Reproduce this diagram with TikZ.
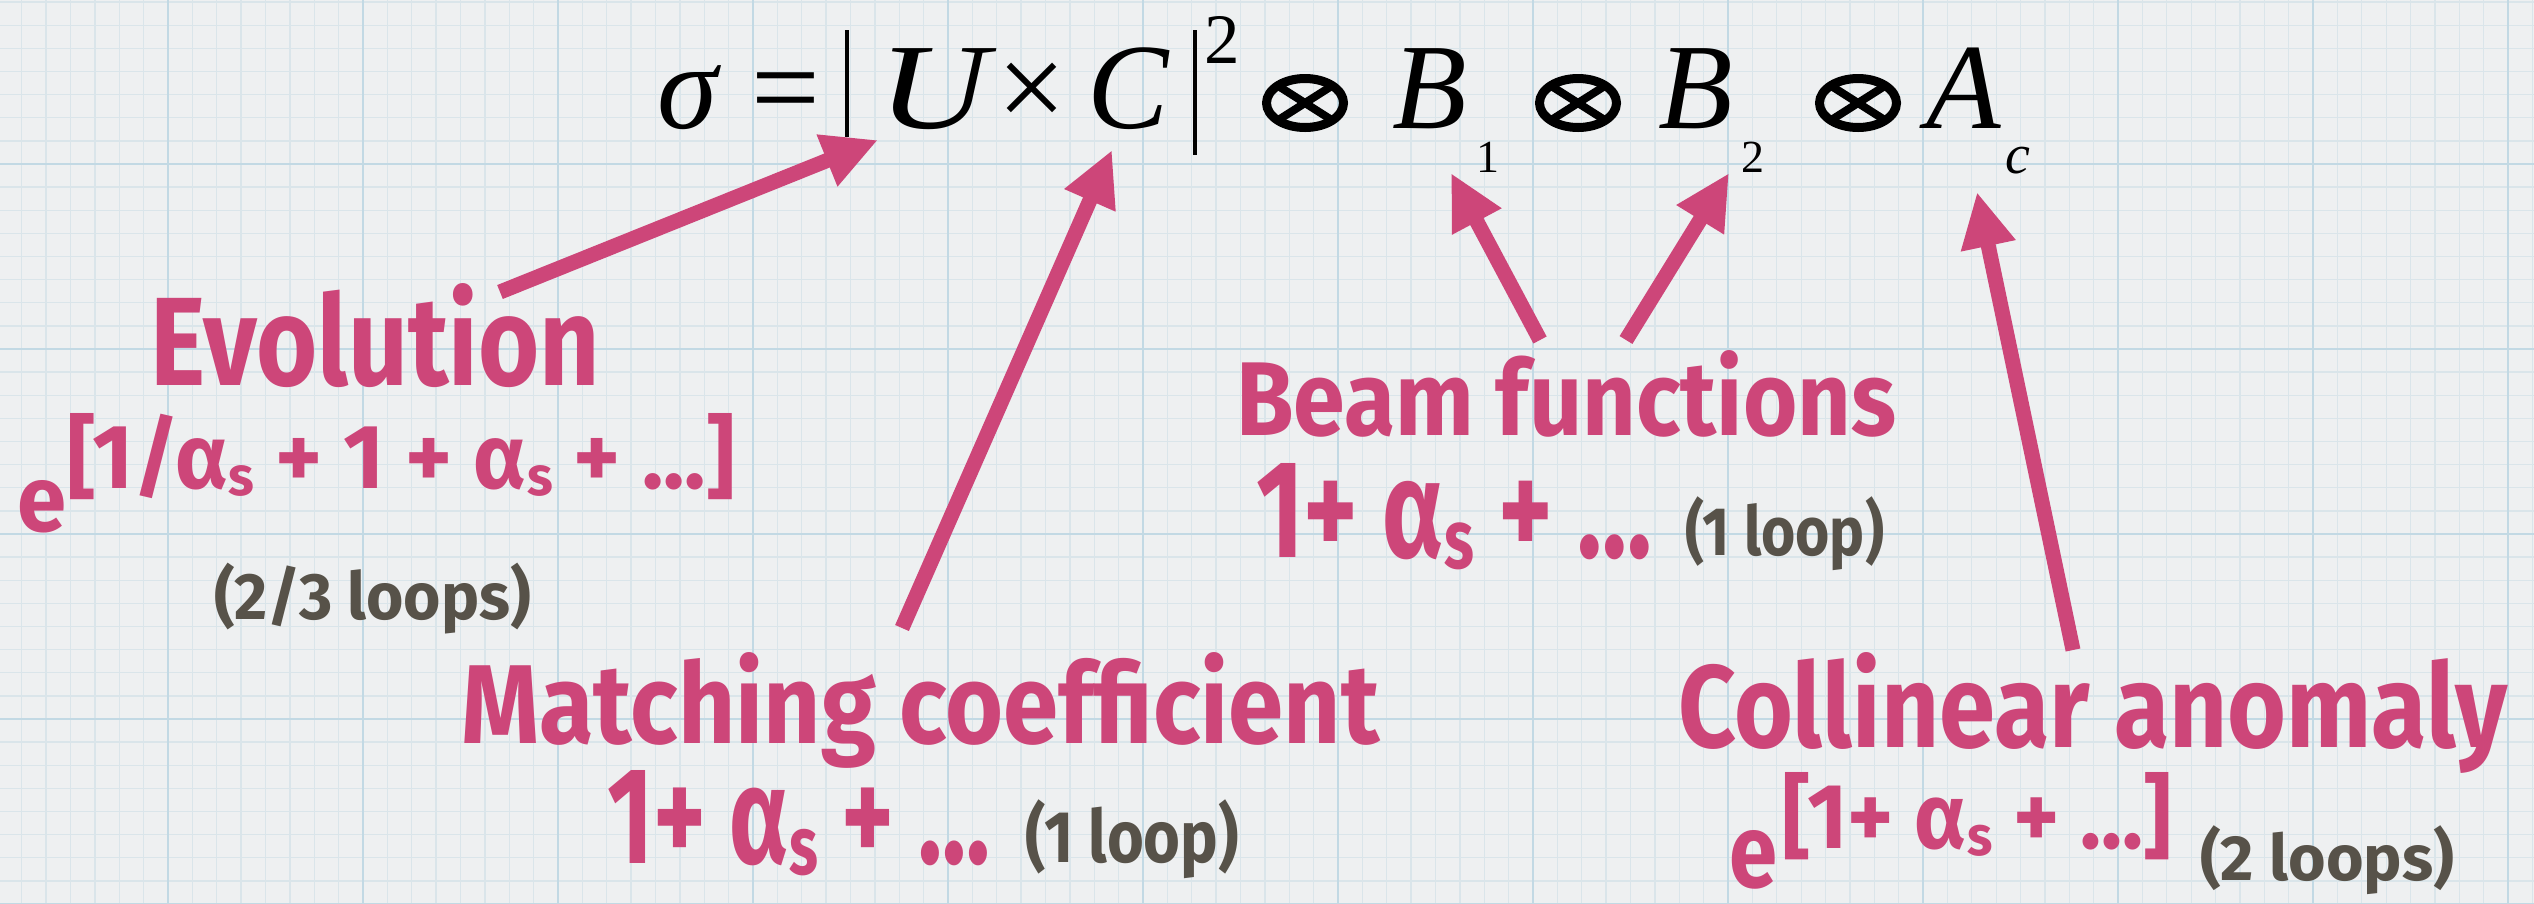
\documentclass[tikz,border=0pt]{standalone}
\usepackage{fontspec}
\usepackage{graphicx}
\usetikzlibrary{arrows.meta,shapes.geometric}
\setmainfont{Liberation Serif}
\newfontfamily\hand{Fira Sans}
\definecolor{bgc}{HTML}{EEF0F1}
\definecolor{minorc}{HTML}{DAE5EA}
\definecolor{majorc}{HTML}{C2D9E4}
\definecolor{pinkc}{HTML}{CD4679}
\definecolor{grayc}{HTML}{575249}
\newcommand\fitt[3]{\resizebox{#1pt}{#2pt}{#3}}
\newcommand\fitT[3]{\resizebox*{#1pt}{#2pt}{#3}}
\newcommand\ssub{\raisebox{-0.08em}{\scalebox{0.6}{s}}}
\tikzset{
  every node/.style={inner sep=0pt, outer sep=0pt},
  pinktext/.style={text=pinkc, font=\hand\bfseries, anchor=base west},
  graytext/.style={text=grayc, font=\hand\bfseries, anchor=south west},
  eqit/.style={font=\fontsize{122}{122}\selectfont\itshape, anchor=base, text=black},
  equp/.style={font=\fontsize{122}{122}\selectfont, anchor=base, text=black},
  eqsub/.style={font=\fontsize{46}{46}\selectfont, anchor=base, text=black},
  eqsubit/.style={font=\fontsize{56}{56}\selectfont\itshape, anchor=base, text=black},
  otring/.style={draw=black, ellipse, line width=9pt, minimum width=77pt, minimum height=49pt},
  otcross/.style={draw=black, line width=8pt},
  parrow/.style={draw=pinkc, line width=15pt, -{Triangle[length=55pt,width=52pt]}},
  minorline/.style={draw=minorc, line width=1.3pt},
  majorline/.style={draw=majorc, line width=2.2pt}
}
\begin{document}
\begin{tikzpicture}[x=1pt,y=-1pt]
\fill[bgc] (0,0) rectangle (2534,903);
\useasboundingbox (0,0) rectangle (2534,903);
\begin{scope}
\clip (0,0) rectangle (2534,903);
\foreach \i in {0,...,107} \draw[minorline] ({-27+\i*24.375},0) -- ({-27+\i*24.375},903);
\foreach \j in {0,...,40} \draw[minorline] (0,{-21+\j*23.125}) -- (2534,{-21+\j*23.125});
\foreach \k in {0,...,13} \draw[majorline] ({-27+\k*195},0) -- ({-27+\k*195},903);
\foreach \k in {0,...,5} \draw[majorline] (0,{-21+\k*185}) -- (2534,{-21+\k*185});
\end{scope}

% equation
\node[eqit] (sigma) at (688,128) {σ};
\node[equp] (eqs) at (786,128) {=};
\node[eqit] (U) at (934,128) {\scalebox{1.25}[1]{U}};
\node[equp] (tms) at (1032,128) {×};
\node[eqit] (C) at (1128,128) {C};
\draw[line width=3.5pt] (847,30) -- (847,137);
\draw[line width=3.5pt] (1195,30) -- (1195,155);
\node[font=\fontsize{71}{71}\selectfont, anchor=base] (sq) at (1222,63) {2};
\foreach \n/\cx in {ot1/1305, ot2/1578, ot3/1858} {
  \node[otring] (\n) at (\cx,103) {};
  \draw[otcross] (\n.north west) -- (\n.south east);
  \draw[otcross] (\n.north east) -- (\n.south west);
}
\node[eqit] (B1) at (1430,128) {B};
\node[eqsub] (s1) at (1488,172) {1};
\node[eqit] (B2) at (1696,128) {B};
\node[eqsub] (s2) at (1753,172) {2};
\node[eqit] (A) at (1964,128) {A};
\node[eqsubit] (sc) at (2018,173) {c};

% labels
\node[pinktext] (evo) at (150,385) {\fitt{450}{102}{Evolution}};
\node[pinktext] (evoE) at (18,531) {\fitt{49}{51}{e}};
\node[pinktext] (evoX) at (67,488) {\fitt{668}{75}{[1/α\ssub{} + 1 + α\ssub{} + ...]}};
\node[graytext] (evoL) at (214,634) {\fitT{317}{71}{(2/3 loops)}};

\node[pinktext] (mat) at (461,743) {\fitt{918}{91}{Matching coefficient}};
\node[pinktext] (matX) at (607,863) {\fitt{383}{93}{1+ α\ssub{} + ...}};
\node[graytext] (matL) at (1025,879) {\fitT{214}{79}{(1 loop)}};

\node[pinktext] (beam) at (1236,435) {\fitt{660}{85}{Beam functions}};
\node[pinktext] (beamX) at (1256,557) {\fitt{396}{94}{1+ α\ssub{} + ...}};
\node[graytext] (beamL) at (1685,571) {\fitT{199}{74}{(1 loop)}};

\node[pinktext] (col) at (1678,747) {\fitt{829}{95}{Collinear anomaly}};
\node[pinktext] (colE) at (1729,887) {\fitt{48}{57}{e}};
\node[pinktext] (colX) at (1782,848) {\fitt{390}{76}{[1+ α\ssub{} + ...]}};
\node[graytext] (colL) at (2200,895) {\fitT{254}{69}{(2 loops)}};

% arrow end points
\coordinate (evoT) at (500,292);
\coordinate (uT) at (878,140);
\coordinate (matT) at (902,628);
\coordinate (cT) at (1112,150);
\coordinate (beamT1) at (1540,340);
\coordinate (b1T) at (1451,173);
\coordinate (beamT2) at (1626,340);
\coordinate (b2T) at (1729,173);
\coordinate (colT) at (2073,650);
\coordinate (aT) at (1977,192);

\draw[parrow] (evoT) -- (uT);
\draw[parrow] (matT) -- (cT);
\draw[parrow] (beamT1) -- (b1T);
\draw[parrow] (beamT2) -- (b2T);
\draw[parrow] (colT) -- (aT);
\end{tikzpicture}
\end{document}
